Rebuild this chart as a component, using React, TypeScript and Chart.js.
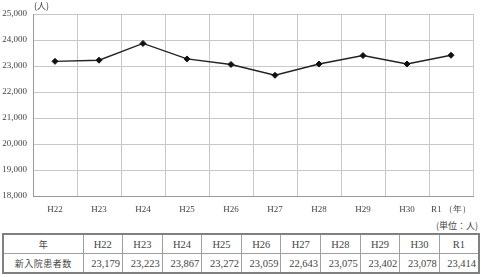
import React, { useEffect, useRef } from 'react';
import { Chart, registerables } from 'chart.js';

Chart.register(...registerables);

const years = ['H22', 'H23', 'H24', 'H25', 'H26', 'H27', 'H28', 'H29', 'H30', 'R1'];
const axisLabels = ['H22', 'H23', 'H24', 'H25', 'H26', 'H27', 'H28', 'H29', 'H30', 'R1 （年）'];
const patients = [23179, 23223, 23867, 23272, 23059, 22643, 23075, 23402, 23078, 23414];
const yMin = 18000;
const yMax = 25000;
const yStep = 1000;
const unitLabel = '(人)';
const tableUnit = '(単位：人)';
const headerLabel = '年';
const rowLabel = '新入院患者数';

const serif = '"Liberation Serif", "DejaVu Serif", serif';
const cjk = '"Noto Sans CJK JP", sans-serif';

export default function App() {
  const ref = useRef<HTMLCanvasElement | null>(null);

  useEffect(() => {
    if (!ref.current) return;
    const chart = new Chart(ref.current, {
      type: 'line',
      data: {
        labels: axisLabels,
        datasets: [
          {
            data: patients,
            borderColor: '#222222',
            borderWidth: 1.4,
            pointStyle: 'rectRot',
            pointRadius: 3,
            pointBackgroundColor: '#111111',
            pointBorderColor: '#111111',
            pointBorderWidth: 1,
            tension: 0,
          },
        ],
      },
      options: {
        animation: false,
        responsive: false,
        devicePixelRatio: 1,
        layout: { padding: { left: 0, right: 8, top: 14, bottom: 0 } },
        plugins: { legend: { display: false }, tooltip: { enabled: false } },
        scales: {
          x: {
            offset: true,
            grid: { offset: true, color: '#c8c8c8', drawTicks: false, lineWidth: 1 },
            border: { color: '#9a9a9a', width: 1 },
            ticks: { color: '#444', font: { family: serif, size: 9 }, padding: 8, maxRotation: 0, autoSkip: false },
            afterFit: (s: any) => { s.height = 19; },
          },
          y: {
            min: yMin,
            max: yMax,
            grid: { color: '#c8c8c8', drawTicks: false, lineWidth: 1 },
            border: { color: '#9a9a9a', width: 1 },
            ticks: {
              stepSize: yStep,
              color: '#444',
              font: { family: serif, size: 9 },
              padding: 6,
              callback: (v: any) => Number(v).toLocaleString('en-US'),
            },
            afterFit: (s: any) => { s.width = 33; },
          },
        },
      },
    });
    return () => chart.destroy();
  }, []);

  const cell: React.CSSProperties = {
    border: '1px solid #a0a0a0',
    height: 18,
    padding: '0 2px',
    fontFamily: serif,
    fontSize: 10.5,
    color: '#444',
  };

  return (
    <div style={{ position: 'absolute', left: 0, top: 0, width: 481, height: 277, background: '#fff' }}>
      <canvas ref={ref} width={481} height={215} style={{ position: 'absolute', left: 0, top: 0 }} />
      <div style={{ position: 'absolute', left: 34, top: 1, fontFamily: cjk, fontSize: 9, color: '#444', lineHeight: '10px' }}>
        {unitLabel}
      </div>
      <div style={{ position: 'absolute', right: 3, top: 221, fontFamily: cjk, fontSize: 9, color: '#444', lineHeight: '10px' }}>
        {tableUnit}
      </div>
      <table
        style={{
          position: 'absolute',
          left: 2,
          top: 233,
          width: 478,
          borderCollapse: 'collapse',
          tableLayout: 'fixed',
          border: '2px solid #808080',
        }}
      >
        <colgroup>
          <col style={{ width: 80 }} />
          {years.map((y) => (
            <col key={y} />
          ))}
        </colgroup>
        <tbody>
          <tr>
            <td style={{ ...cell, textAlign: 'center', fontFamily: cjk, fontSize: 9 }}>{headerLabel}</td>
            {years.map((y) => (
              <td key={y} style={{ ...cell, textAlign: 'center' }}>{y}</td>
            ))}
          </tr>
          <tr>
            <td style={{ ...cell, textAlign: 'center', fontFamily: cjk, fontSize: 9, letterSpacing: 0.5 }}>{rowLabel}</td>
            {patients.map((v, i) => (
              <td key={years[i]} style={{ ...cell, textAlign: 'right' }}>{v.toLocaleString('en-US')}</td>
            ))}
          </tr>
        </tbody>
      </table>
    </div>
  );
}
